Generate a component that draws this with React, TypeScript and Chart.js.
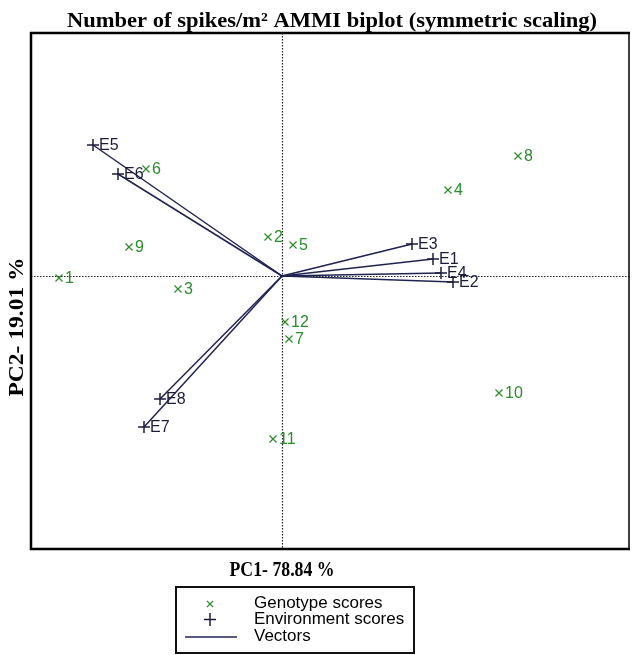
import React, { useEffect, useRef } from "react";
import { Chart, registerables } from "chart.js";

Chart.register(...registerables);

// Genotype scores (PC1, PC2)
const genotypeLabels = ["1", "2", "3", "4", "5", "6", "7", "8", "9", "10", "11", "12"];
const genotypePC1 = [-4.46, -0.28, -2.08, 3.32, 0.22, -2.72, 0.14, 4.72, -3.06, 4.34, -0.18, 0.06];
const genotypePC2 = [-0.04, 0.78, -0.26, 1.72, 0.62, 2.14, -1.26, 2.4, 0.58, -2.34, -3.26, -0.92];

// Environment scores (PC1, PC2)
const envLabels = ["E1", "E2", "E3", "E4", "E5", "E6", "E7", "E8"];
const envPC1 = [3.02, 3.42, 2.6, 3.18, -3.78, -3.28, -2.76, -2.44];
const envPC2 = [0.34, -0.12, 0.64, 0.06, 2.62, 2.04, -3.02, -2.46];

const titleText = "Number of spikes/m\u00B2 AMMI biplot (symmetric scaling)";
const xTitle = "PC1- 78.84 %";
const yTitle = "PC2- 19.01 %";
const legendItems = ["Genotype scores", "Environment scores", "Vectors"];

const GREEN = "#2a8c2a";
const DARK = "#1c1c3a";
const NAVY = "#1f2350";

function fitText(ctx: CanvasRenderingContext2D, text: string, cx: number, cy: number, target: number, rot = 0) {
  ctx.save();
  ctx.translate(cx, cy);
  if (rot) ctx.rotate(rot);
  const w = ctx.measureText(text).width;
  ctx.scale(target / w, 1);
  ctx.textAlign = "center";
  ctx.fillText(text, 0, 0);
  ctx.restore();
}

const biplotPlugin = {
  id: "biplot",
  beforeDatasetsDraw(chart: any) {
    const ctx = chart.ctx as CanvasRenderingContext2D;
    const { left, right, top, bottom } = chart.chartArea;
    const ox = chart.scales.x.getPixelForValue(0);
    const oy = chart.scales.y.getPixelForValue(0);
    ctx.save();
    ctx.strokeStyle = "#222";
    ctx.lineWidth = 1.2;
    ctx.setLineDash([1.5, 1.5]);
    ctx.beginPath();
    ctx.moveTo(Math.round(ox) + 0.5, top);
    ctx.lineTo(Math.round(ox) + 0.5, bottom);
    ctx.moveTo(left, Math.round(oy) + 0.5);
    ctx.lineTo(right, Math.round(oy) + 0.5);
    ctx.stroke();
    ctx.restore();
  },
  afterDatasetsDraw(chart: any) {
    const ctx = chart.ctx as CanvasRenderingContext2D;
    const xs = chart.scales.x;
    const ys = chart.scales.y;
    ctx.save();
    ctx.font = '16px "Liberation Sans", Arial, sans-serif';
    ctx.textBaseline = "middle";
    ctx.textAlign = "left";
    ctx.fillStyle = GREEN;
    genotypeLabels.forEach((l, i) => {
      ctx.fillText(l, xs.getPixelForValue(genotypePC1[i]) + 6, ys.getPixelForValue(genotypePC2[i]) + 0.5);
    });
    ctx.fillStyle = DARK;
    envLabels.forEach((l, i) => {
      ctx.fillText(l, xs.getPixelForValue(envPC1[i]) + 6, ys.getPixelForValue(envPC2[i]) + 0.5);
    });
    ctx.restore();
  },
  afterDraw(chart: any) {
    const ctx = chart.ctx as CanvasRenderingContext2D;
    const { left, right, top, bottom } = chart.chartArea;
    const ox = chart.scales.x.getPixelForValue(0);
    ctx.save();
    // frame
    ctx.strokeStyle = "#000";
    ctx.setLineDash([]);
    ctx.lineWidth = 2.5;
    ctx.beginPath();
    ctx.moveTo(right, top);
    ctx.lineTo(left, top);
    ctx.lineTo(left, bottom);
    ctx.lineTo(right, bottom);
    ctx.stroke();
    ctx.lineWidth = 1.5;
    ctx.beginPath();
    ctx.moveTo(right - 1, top);
    ctx.lineTo(right - 1, bottom);
    ctx.stroke();

    // titles
    ctx.fillStyle = "#000";
    ctx.textBaseline = "alphabetic";
    ctx.font = 'bold 22px "Liberation Serif", "Times New Roman", serif';
    fitText(ctx, titleText, 332, 27, 530);
    ctx.font = 'bold 21px "Liberation Serif", "Times New Roman", serif';
    fitText(ctx, xTitle, ox, 576, 105);
    ctx.font = 'bold 22px "Liberation Serif", "Times New Roman", serif';
    fitText(ctx, yTitle, 23, 327, 139, -Math.PI / 2);

    // legend
    const lx = 176, ly = 587, lw = 238, lh = 66;
    ctx.lineWidth = 2;
    ctx.strokeStyle = "#111";
    ctx.strokeRect(lx, ly, lw, lh);
    // x marker
    ctx.strokeStyle = GREEN;
    ctx.lineWidth = 1.2;
    ctx.beginPath();
    ctx.moveTo(207, 601); ctx.lineTo(213, 607);
    ctx.moveTo(213, 601); ctx.lineTo(207, 607);
    ctx.stroke();
    // + marker
    ctx.strokeStyle = DARK;
    ctx.lineWidth = 1.5;
    ctx.beginPath();
    ctx.moveTo(204, 619.5); ctx.lineTo(216, 619.5);
    ctx.moveTo(210, 613); ctx.lineTo(210, 626);
    ctx.stroke();
    // line
    ctx.strokeStyle = NAVY;
    ctx.lineWidth = 1.5;
    ctx.beginPath();
    ctx.moveTo(185, 637); ctx.lineTo(237, 637);
    ctx.stroke();
    ctx.fillStyle = "#000";
    ctx.font = '17px "Liberation Sans", Arial, sans-serif';
    ctx.textBaseline = "middle";
    ctx.textAlign = "left";
    ctx.fillText(legendItems[0], 254, 603);
    ctx.fillText(legendItems[1], 254, 619);
    ctx.fillText(legendItems[2], 254, 636);
    ctx.restore();
  },
};

export default function App() {
  const ref = useRef<HTMLCanvasElement | null>(null);
  useEffect(() => {
    if (!ref.current) return;
    const genoData = genotypePC1.map((x, i) => ({ x, y: genotypePC2[i] }));
    const envData = envPC1.map((x, i) => ({ x, y: envPC2[i] }));
    const vectorSets = envPC1.map((x, i) => ({
      label: "Vector " + envLabels[i],
      data: [{ x: 0, y: 0 }, { x, y: envPC2[i] }],
      showLine: true,
      borderColor: NAVY,
      borderWidth: 1.5,
      pointRadius: 0,
      fill: false,
    }));
    const chart = new Chart(ref.current, {
      type: "scatter",
      data: {
        datasets: [
          {
            label: "Genotype scores",
            data: genoData,
            pointStyle: "crossRot",
            pointRadius: 5,
            borderColor: GREEN,
            backgroundColor: GREEN,
            borderWidth: 1.2,
          },
          {
            label: "Environment scores",
            data: envData,
            pointStyle: "cross",
            pointRadius: 6,
            borderColor: DARK,
            backgroundColor: DARK,
            borderWidth: 1.5,
          },
          ...vectorSets,
        ] as any,
      },
      options: {
        animation: false,
        responsive: false,
        devicePixelRatio: 1,
        layout: { autoPadding: false, padding: { left: 31, right: 2, top: 33, bottom: 106 } },
        scales: {
          x: { type: "linear", min: -5.02, max: 6.96, display: false },
          y: { type: "linear", min: -5.46, max: 4.86, display: false },
        },
        plugins: {
          legend: { display: false },
          tooltip: { enabled: false },
          title: { display: false },
        },
      },
      plugins: [biplotPlugin],
    });
    return () => chart.destroy();
  }, []);
  return (
    <div style={{ position: "absolute", left: 0, top: 0, width: 632, height: 655, background: "#fff" }}>
      <canvas ref={ref} width={632} height={655} style={{ display: "block", width: 632, height: 655 }} />
    </div>
  );
}
